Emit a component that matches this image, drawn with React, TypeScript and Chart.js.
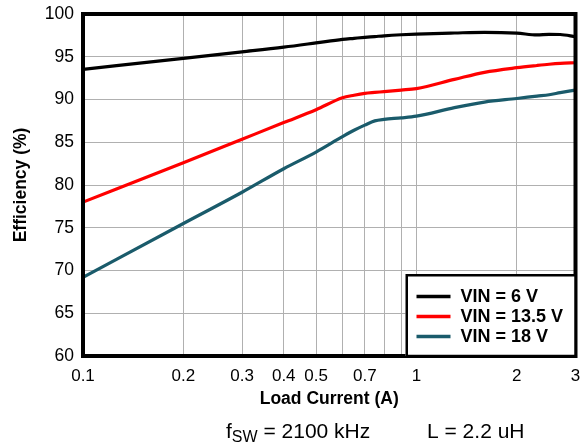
import React, { useEffect, useRef } from 'react';
import { Chart, registerables } from 'chart.js';

Chart.register(...registerables);

// ---- data ----
const loadCurrent = [0.1, 0.2, 0.3, 0.4, 0.5, 0.6, 0.65, 0.7, 0.75, 0.8, 0.9, 1.0, 1.3, 1.6, 2.0, 2.3, 2.5, 2.7, 3.0];
const eff6V = [93.53, 94.82, 95.57, 96.12, 96.62, 97.04, 97.16, 97.27, 97.36, 97.45, 97.57, 97.65, 97.78, 97.86, 97.76, 97.55, 97.62, 97.6, 97.35];
const eff13V5 = [78.0, 82.6, 85.35, 87.3, 88.8, 90.2, 90.5, 90.72, 90.83, 90.92, 91.1, 91.28, 92.35, 93.18, 93.72, 93.98, 94.12, 94.22, 94.3];
const eff18V = [69.2, 75.5, 79.15, 81.9, 83.85, 85.65, 86.4, 87.0, 87.5, 87.68, 87.85, 88.05, 89.05, 89.7, 90.12, 90.4, 90.56, 90.8, 91.1];
const seriesLabels = ['VIN = 6 V', 'VIN = 13.5 V', 'VIN = 18 V'];
const seriesColors = ['#000000', '#ff0000', '#1a5b6b'];
const xGridValues = [0.1, 0.2, 0.3, 0.4, 0.5, 0.6, 0.7, 0.8, 0.9, 1, 2, 3];
const xTickLabels = ['0.1', '0.2', '0.3', '0.4', '0.5', '0.7', '1', '2', '3'];
const yMin = 60;
const yMax = 100;
const yStep = 5;
const xTitle = 'Load Current (A)';
const yTitle = 'Efficiency (%)';
const noteMain = 'f';
const noteSub = 'SW';
const noteRest = ' = 2100 kHz';
const noteRight = 'L = 2.2 uH';

const FONT = '"Liberation Sans", Arial, Helvetica, sans-serif';

const framePlugin = {
  id: 'frameAndLegend',
  afterDatasetsDraw(chart: any) {
    const { ctx, chartArea } = chart;
    const { left, right, top, bottom } = chartArea;
    ctx.save();
    ctx.strokeStyle = '#000';
    ctx.lineWidth = 4;
    ctx.strokeRect(left, top, right - left, bottom - top);

    // legend box
    const w = 170;
    const h = 82;
    const x0 = right - w;
    const y0 = bottom - h;
    ctx.fillStyle = '#fff';
    ctx.fillRect(x0, y0, w, h);
    ctx.lineWidth = 2.5;
    ctx.strokeRect(x0 + 1.25, y0 + 1.25, w - 1.25, h - 1.25);
    ctx.font = `bold 18px ${FONT}`;
    ctx.textBaseline = 'middle';
    ctx.textAlign = 'left';
    chart.data.datasets.forEach((ds: any, i: number) => {
      const y = y0 + 22.5 + i * 20;
      ctx.strokeStyle = ds.borderColor;
      ctx.lineWidth = 3.5;
      ctx.beginPath();
      ctx.moveTo(x0 + 11, y);
      ctx.lineTo(x0 + 45, y);
      ctx.stroke();
      ctx.fillStyle = '#000';
      ctx.fillText(ds.label, x0 + 55, y + 1);
    });
    ctx.restore();
  },
  afterDraw(chart: any) {
    const { ctx } = chart;
    ctx.save();
    ctx.fillStyle = '#000';
    ctx.textBaseline = 'alphabetic';
    ctx.textAlign = 'left';
    let x = 226;
    const base = 438;
    ctx.font = `21px ${FONT}`;
    ctx.fillText(noteMain, x, base);
    x += ctx.measureText(noteMain).width;
    ctx.font = `16px ${FONT}`;
    ctx.fillText(noteSub, x, base + 4);
    x += ctx.measureText(noteSub).width;
    ctx.font = `21px ${FONT}`;
    ctx.fillText(noteRest, x, base);
    ctx.fillText(noteRight, 427, base);
    ctx.restore();
  },
};

const zeroPadding = (scale: any) => {
  scale.paddingLeft = 0;
  scale.paddingRight = 0;
  scale.paddingTop = 0;
  scale.paddingBottom = 0;
};

export default function App() {
  const ref = useRef<HTMLCanvasElement | null>(null);

  useEffect(() => {
    if (!ref.current) return;
    const mk = (vals: number[]) => loadCurrent.map((x, i) => ({ x, y: vals[i] }));
    const allSeries = [eff6V, eff13V5, eff18V];
    const chart = new Chart(ref.current, {
      type: 'line',
      data: {
        datasets: allSeries.map((vals, i) => ({
          label: seriesLabels[i],
          data: mk(vals),
          borderColor: seriesColors[i],
          backgroundColor: seriesColors[i],
          borderWidth: 3.2,
          pointRadius: 0,
          cubicInterpolationMode: 'monotone',
          fill: false,
        })),
      },
      options: {
        animation: false,
        responsive: false,
        devicePixelRatio: 1,
        layout: { padding: { top: 14, right: 10.5, left: 0, bottom: 0 } },
        plugins: { legend: { display: false }, tooltip: { enabled: false } },
        scales: {
          x: {
            type: 'logarithmic',
            min: 0.1,
            max: 3,
            afterBuildTicks: (scale: any) => {
              scale.ticks = xGridValues.map((v) => ({ value: v }));
            },
            afterFit: (scale: any) => {
              scale.height = 89;
              zeroPadding(scale);
            },
            ticks: {
              autoSkip: false,
              maxRotation: 0,
              minRotation: 0,
              padding: 10.5,
              color: '#000',
              font: { family: FONT, size: 17 },
              callback: (value: any) => {
                const v = Number(value);
                const idx = xGridValues.findIndex((g) => Math.abs(g - v) < 1e-9);
                if (idx < 0) return '';
                const s = String(xGridValues[idx]);
                return xTickLabels.includes(s) ? s : '';
              },
            },
            grid: { color: '#b0b0b0', lineWidth: 1, drawTicks: false },
            border: { display: false },
            title: {
              display: true,
              text: xTitle,
              color: '#000',
              font: { family: FONT, size: 17.5, weight: 'bold' },
              padding: { top: 0, bottom: 35.5 },
            },
          },
          y: {
            type: 'linear',
            min: yMin,
            max: yMax,
            afterFit: (scale: any) => {
              scale.width = 83;
              zeroPadding(scale);
            },
            ticks: {
              stepSize: yStep,
              padding: 9,
              color: '#000',
              font: { family: FONT, size: 17.5 },
            },
            grid: { color: '#b0b0b0', lineWidth: 1, drawTicks: false },
            border: { display: false },
            title: {
              display: true,
              text: yTitle,
              color: '#000',
              font: { family: FONT, size: 17.5, weight: 'bold' },
              padding: { top: 11, bottom: 0 },
            },
          },
        },
      },
      plugins: [framePlugin],
    } as any);
    return () => chart.destroy();
  }, []);

  return (
    <div style={{ position: 'absolute', left: 0, top: 0, width: 586, height: 445, background: '#fff' }}>
      <canvas ref={ref} width={586} height={445} style={{ display: 'block', width: 586, height: 445 }} />
    </div>
  );
}
